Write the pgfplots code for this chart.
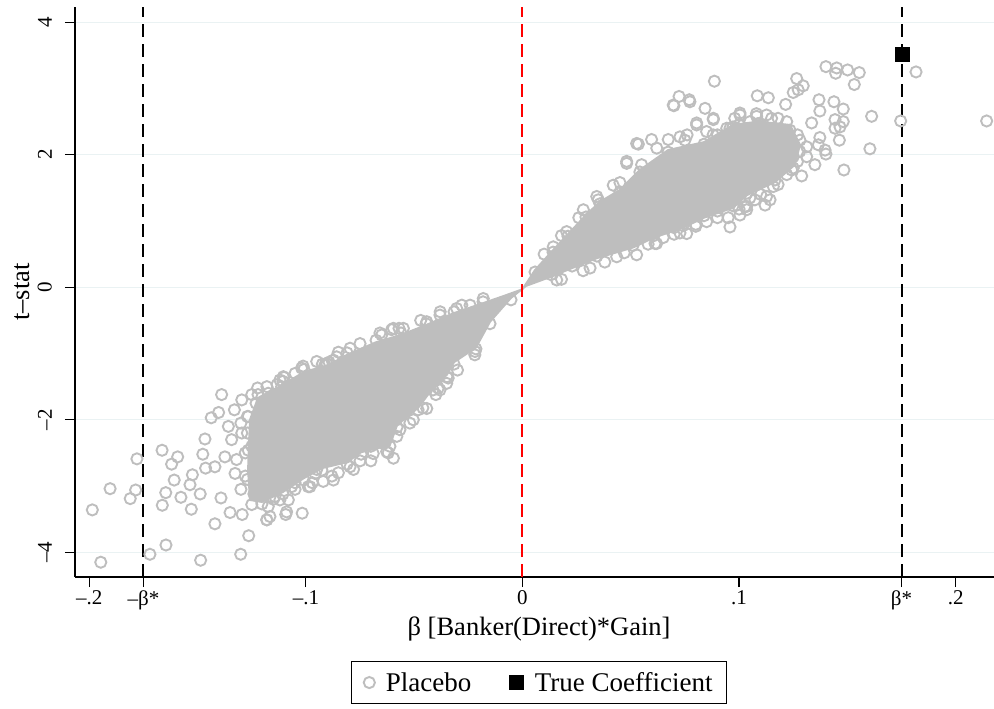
\documentclass[border=0pt]{standalone}
\usepackage{fontspec}
\setmainfont{Liberation Serif}
\usepackage{pgfplots}
\pgfplotsset{compat=1.18}
\definecolor{ptgray}{RGB}{190,190,190}
\definecolor{gridc}{RGB}{234,242,243}
\begin{document}
\begin{tikzpicture}
\begin{axis}[
  scale only axis, width=919bp, height=570bp,
  xmin=-0.2066, xmax=0.2177, ymin=-4.373, ymax=4.23,
  axis x line=bottom, axis y line=left,
  axis line style={-, line width=1.2bp, black},
  tick align=outside, major tick length=10bp,
  tick style={line width=1.2bp, black},
  xtick={-0.2,-0.175,-0.1,0,0.1,0.175,0.2},
  xticklabels={\textendash.2,\textendash β*,\textendash.1,0,.1,β*,.2},
  ytick={-4,-2,0,2,4},
  yticklabels={\textendash4,\textendash2,0,2,4},
  ticklabel style={font=\fontsize{21bp}{21bp}\selectfont},
  yticklabel style={rotate=90, anchor=south, inner ysep=13bp},
  ymajorgrids, grid style={color=gridc, line width=1.3bp},
  xlabel={β [Banker(Direct)*Gain]},
  ylabel={t\textendash stat},
  label style={font=\fontsize{26.5bp}{26.5bp}\selectfont},
  xlabel style={at={(rel axis cs:0.505,-0.063)}, anchor=north},
  ylabel style={at={(rel axis cs:-0.0457,0.5)}, anchor=south, rotate=0},
  legend style={at={(rel axis cs:0.505,-0.147)}, anchor=north, legend columns=2,
    draw=black, line width=1bp, font=\fontsize{27bp}{27bp}\selectfont,
    inner xsep=12bp, inner ysep=9bp,
    /tikz/every odd column/.append style={column sep=9bp},
    /tikz/every even column/.append style={column sep=36bp}},
  legend cell align=left,
]
% dense core of the placebo cloud
\addplot[fill=ptgray, draw=ptgray, line width=2bp, forget plot] coordinates {
(-0.1258,-2.00) (-0.1221,-1.67) (-0.1106,-1.47) (-0.1009,-1.28) (-0.0893,-1.17)
(-0.0810,-1.02) (-0.0676,-0.83) (-0.0561,-0.72) (-0.0445,-0.57) (-0.0316,-0.39)
(-0.0182,-0.24) (-0.0085,-0.13) (0,-0.03)
(0.0058,0.26) (0.0141,0.56) (0.0210,0.80) (0.0293,1.09) (0.0358,1.29)
(0.0450,1.47) (0.0542,1.77) (0.0672,2.07) (0.0838,2.19) (0.0972,2.45)
(0.1087,2.50) (0.1235,2.45) (0.1281,2.15) (0.1258,1.85)
(0.1166,1.59) (0.1036,1.39) (0.0972,1.20) (0.0838,1.05) (0.0741,0.90)
(0.0607,0.75) (0.0510,0.60) (0.0344,0.44) (0.0229,0.29) (0.0132,0.16) (0.0016,0.02)
(-0.0053,-0.16) (-0.0150,-0.52) (-0.0215,-0.91) (-0.0316,-1.13) (-0.0349,-1.32)
(-0.0413,-1.52) (-0.0482,-1.82) (-0.0579,-2.08) (-0.0612,-2.38) (-0.0745,-2.49)
(-0.0810,-2.64) (-0.0926,-2.73) (-0.1009,-2.88) (-0.1106,-3.09) (-0.1203,-3.24)
(-0.1258,-3.21) (-0.1267,-2.76) (-0.1258,-2.00)
};
\addplot[only marks, mark=o, mark size=5.6bp, mark options={draw=ptgray, line width=1.9bp}] coordinates {
(-0.1986,-3.36) (-0.1947,-4.15) (-0.1904,-3.04) (-0.1811,-3.19) (-0.1786,-3.06)
(-0.1780,-2.59) (-0.1720,-4.03) (-0.1664,-2.46) (-0.1646,-3.89) (-0.1620,-2.67)
(-0.1592,-2.56) (-0.1608,-2.91) (-0.1647,-3.10) (-0.1663,-3.29) (-0.1577,-3.17)
(-0.1529,-3.35) (-0.1524,-2.83) (-0.1535,-2.98) (-0.1488,-3.12) (-0.1486,-4.12)
(-0.1476,-2.52) (-0.1466,-2.29) (-0.1437,-1.97) (-0.1389,-1.62) (-0.1403,-1.89)
(-0.1463,-2.73) (-0.1392,-3.18) (-0.1420,-3.57) (-0.1350,-3.40) (-0.1301,-4.03)
(-0.1264,-3.75) (-0.1294,-3.43) (-0.1223,-1.52) (-0.1180,-3.51) (-0.1093,-3.43)
(-0.1017,-3.41) (-0.1013,-1.19) (-0.0924,-1.16) (-0.1101,-1.36) (-0.1133,-1.47)
(-0.1358,-2.10) (-0.1343,-2.30) (-0.1296,-2.20) (-0.1266,-2.46) (-0.1327,-2.81)
(-0.1374,-2.56) (-0.1420,-2.71) (-0.1235,-2.91) (-0.1143,-3.16) (-0.1174,-3.31)
(-0.1081,-3.21) (-0.0989,-3.01) (-0.0958,-2.81) (-0.1066,-3.01) (-0.1204,-1.80)
(-0.1266,-1.95) (-0.1296,-1.70) (-0.1174,-1.60) (-0.1112,-1.50) (-0.1050,-1.30)
(-0.0989,-1.40) (-0.1204,-2.20) (-0.1174,-2.51) (-0.1143,-2.81) (-0.1112,-2.30)
(-0.1235,-2.61) (-0.1143,-2.00) (-0.1166,-3.46) (-0.1089,-3.39) (-0.1120,-3.21)
(-0.0981,-3.01) (-0.0873,-2.91) (-0.0796,-2.71) (-0.0689,-2.51) (-0.0596,-2.58)
(-0.0627,-2.48) (-0.0504,-2.00) (-0.0442,-1.83) (-0.0381,-1.55) (-0.0343,-1.37)
(-0.0219,-0.97) (-0.0566,-2.15) (-0.0920,-2.93) (-0.1227,-3.01) (-0.0904,-1.15)
(-0.0796,-0.92) (-0.0858,-1.05) (-0.0658,-0.69) (-0.0596,-0.62) (-0.0550,-0.62)
(-0.0689,-0.95) (-0.0604,-0.64) (-0.0442,-0.52) (-0.0381,-0.42) (-0.0304,-0.32)
(-0.0242,-0.27) (-0.0181,-0.17) (-0.0389,-1.52) (-0.0912,-1.17) (-0.0873,-1.10)
(-0.1181,-3.51) (-0.1104,-1.35)
(-0.085,-2.80) (-0.075,-2.62) (-0.070,-2.40) (-0.065,-2.35) (-0.105,-2.95)
(-0.095,-2.75) (-0.090,-2.60) (-0.110,-2.95) (-0.120,-2.72) (-0.125,-2.40)
(-0.130,-2.05) (-0.120,-1.90) (-0.105,-1.62) (-0.115,-1.75)
(-0.125,-1.62) (-0.118,-1.50) (-0.112,-1.40) (-0.102,-1.22) (-0.095,-1.12)
(-0.085,-0.98) (-0.075,-0.85) (-0.065,-0.72) (-0.057,-0.62) (-0.047,-0.50)
(-0.038,-0.37) (-0.028,-0.27)
(-0.125,-3.28) (-0.115,-3.20) (-0.105,-3.05) (-0.097,-2.95) (-0.088,-2.85)
(-0.078,-2.75) (-0.070,-2.62) (-0.062,-2.50) (-0.058,-2.25) (-0.052,-2.05)
(-0.046,-1.82) (-0.040,-1.62) (-0.035,-1.45) (-0.030,-1.25) (-0.022,-1.02)
(-0.132,-2.60) (-0.130,-3.05) (-0.128,-2.85) (-0.133,-1.85)
(-0.127,-2.20) (-0.128,-2.50) (-0.127,-2.90) (-0.124,-3.12) (-0.123,-1.75) (-0.127,-1.95)
(-0.1221,-1.62) (-0.1106,-1.42) (-0.1009,-1.24) (-0.0893,-1.13) (-0.0810,-0.99)
(-0.0676,-0.80) (-0.0561,-0.69) (-0.0445,-0.55) (-0.0316,-0.37) (-0.0182,-0.22)
(-0.0053,-0.19) (-0.0150,-0.55) (-0.0215,-0.93) (-0.0316,-1.16) (-0.0349,-1.35)
(-0.0413,-1.55) (-0.0482,-1.85) (-0.0579,-2.11) (-0.0612,-2.40) (-0.0745,-2.52)
(-0.0810,-2.67) (-0.0926,-2.76) (-0.1009,-2.91) (-0.1106,-3.12) (-0.1203,-3.27)
(0.0527,2.17) (0.0481,1.90) (0.0673,2.23) (0.0696,2.75) (0.0773,2.80)
(0.0843,2.70) (0.0343,1.37) (0.0419,1.54) (0.0281,1.17) (0.0204,0.84)
(0.0142,0.61) (0.0727,2.27) (0.0804,2.45) (0.0881,2.53) (0.0943,2.40)
(0.1004,2.60) (0.0958,0.91) (0.1004,1.09) (0.1035,1.22) (0.0850,0.99)
(0.0758,0.81) (0.0619,0.66) (0.0527,0.49) (0.0435,0.46) (0.0312,0.29)
(0.0158,0.11) (0.1143,1.32) (0.1112,1.62) (0.1084,2.89) (0.1135,2.86)
(0.1215,2.76) (0.1266,3.15) (0.1296,3.04) (0.1250,2.94) (0.1273,2.98)
(0.1369,2.83) (0.1438,2.80) (0.1481,2.69) (0.1373,2.66) (0.1401,3.33)
(0.1451,3.31) (0.1446,3.23) (0.1501,3.28) (0.1555,3.24) (0.1532,3.06)
(0.1612,2.58) (0.1604,2.09) (0.1484,1.77) (0.1746,2.51) (0.1817,3.25)
(0.2143,2.51) (0.1443,2.53) (0.1466,2.42) (0.1481,2.50) (0.1443,2.40)
(0.1463,2.22) (0.1335,2.48) (0.1373,2.26) (0.1366,2.15) (0.1397,2.07)
(0.1401,2.01) (0.1350,1.85) (0.1289,1.68) (0.1243,1.77) (0.1312,2.12)
(0.1281,2.22) (0.1235,2.22) (0.1220,2.50) (0.1235,2.37) (0.1189,2.37)
(0.1158,1.52) (0.1127,1.37) (0.1120,1.24) (0.1073,1.32) (0.1035,1.17)
(0.1174,1.82) (0.1189,1.97) (0.1250,1.97) (0.1312,1.97) (0.1143,2.17)
(0.0886,3.11) (0.0723,2.88) (0.0770,2.83) (0.0699,2.74) (0.0881,2.55)
(0.0804,2.48) (0.1004,2.63) (0.0958,2.40) (0.1081,2.58) (0.1127,2.60)
(0.0612,0.66) (0.0727,0.82) (0.1027,1.22) (0.0535,2.16) (0.0596,2.23)
(0.0481,1.87) (0.1000,2.45) (0.1050,2.50) (0.1100,2.45) (0.1150,2.55)
(0.1200,2.30) (0.1050,1.35) (0.0950,1.05) (0.0900,1.15) (0.0800,0.95)
(0.0700,0.90) (0.0650,0.75) (0.0850,2.35) (0.0900,2.30) (0.0760,2.30)
(0.010,0.50) (0.018,0.78) (0.026,1.05) (0.035,1.32) (0.045,1.58) (0.055,1.85)
(0.062,2.10) (0.075,2.22) (0.088,2.30) (0.098,2.55) (0.108,2.62) (0.118,2.55)
(0.125,1.80) (0.118,1.55) (0.110,1.40) (0.100,1.18) (0.090,1.05) (0.080,0.92)
(0.070,0.80) (0.058,0.65) (0.047,0.52) (0.038,0.38) (0.028,0.25) (0.018,0.12)
(0.127,2.30) (0.128,2.05) (0.127,1.90) (0.122,1.70)
(0.0058,0.23) (0.0141,0.53) (0.0210,0.77) (0.0293,1.06) (0.0358,1.26)
(0.0450,1.44) (0.0542,1.74) (0.0672,2.04) (0.0838,2.16) (0.0972,2.42)
(0.1087,2.47) (0.1166,1.62) (0.1036,1.42) (0.0972,1.23) (0.0838,1.08)
(0.0741,0.93) (0.0607,0.78) (0.0510,0.63) (0.0344,0.47) (0.0229,0.32) (0.0132,0.19)
};
\addlegendentry{Placebo}
% reference lines
\addplot[forget plot, black, line width=2bp, dash pattern=on 13bp off 7bp] coordinates {(-0.175,-4.373) (-0.175,4.23)};
\addplot[forget plot, black, line width=2bp, dash pattern=on 13bp off 7bp] coordinates {(0.175,-4.373) (0.175,4.23)};
\addplot[forget plot, red, line width=2bp, dash pattern=on 13bp off 7bp] coordinates {(0,-4.373) (0,4.23)};
\addplot[only marks, mark=square*, mark size=7.2bp, mark options={fill=black, draw=black}] coordinates {(0.1753,3.52)};
\addlegendentry{True Coefficient}
\coordinate (axll) at (rel axis cs:0,0);
\end{axis}
\pgfresetboundingbox
\path (axll) ++(-75bp,-132bp) rectangle ++(994bp,709bp);
\end{tikzpicture}
\end{document}
